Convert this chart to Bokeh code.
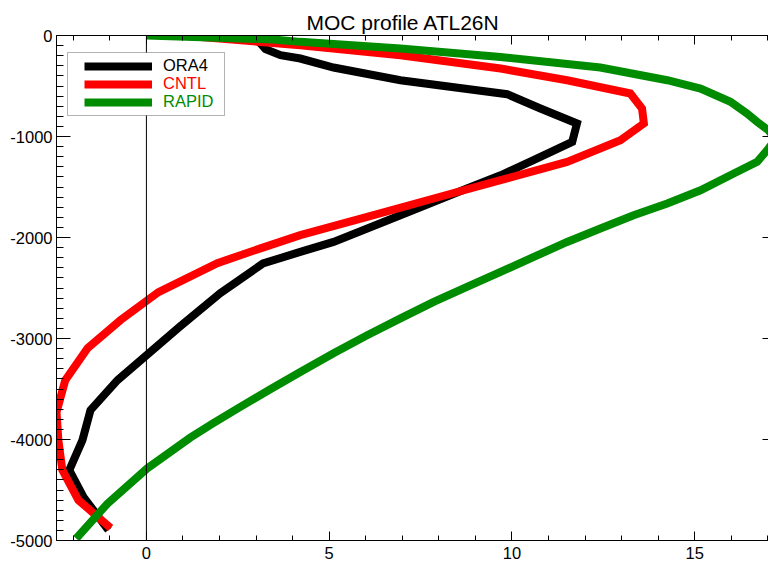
from bokeh.plotting import figure
from bokeh.models import (Range1d, LinearAxis, SingleIntervalTicker, Span, Legend, LegendItem,
                          CustomJSTickFormatter, Title, BoxAnnotation, Node)
from bokeh.embed import file_html
from bokeh.resources import INLINE

# ---- data ----
ora4_x = [3.06, 3.09, 3.26, 3.67, 4.21, 5.12, 6.95, 9.87, 10.78, 11.78, 11.65, 10.59, 9.69,
          8.77, 6.95, 5.12, 4.21, 3.19, 2.02, 0.93, -0.79, -1.53, -1.75, -2.11, -1.72, -1.04]
ora4_z = [-5, -66, -136, -195, -228, -317, -443, -581, -723, -871, -1053, -1235, -1384,
          -1515, -1779, -2044, -2143, -2257, -2551, -2878, -3412, -3709, -4006, -4303, -4570, -4897]

cntl_x = [1.15, 4.21, 6.95, 9.69, 11.51, 13.24, 13.56, 13.61, 12.97, 11.51, 9.69, 7.86, 6.04,
          4.21, 3.10, 1.94, 0.33, -0.71, -1.61, -2.22, -2.46, -2.41, -2.30, -1.86, -0.98]
cntl_z = [-5, -96, -195, -327, -443, -574, -723, -871, -1037, -1251, -1432, -1614, -1796,
          -1977, -2110, -2254, -2541, -2818, -3096, -3412, -3729, -4006, -4303, -4600, -4877]

rapid_x = [0.0, 3.47, 4.21, 6.95, 9.69, 12.42, 14.25, 15.16, 15.98, 16.43, 16.71, 17.02, 17.21,
           17.02, 16.71, 16.07, 15.16, 14.25, 13.33, 12.42, 11.51, 10.60, 9.69, 8.77, 7.86,
           6.95, 6.04, 5.12, 4.21, 3.39, 2.57, 1.83, 1.20, 0.02, -1.07, -1.92]
rapid_z = [0, -39, -63, -129, -212, -317, -443, -525, -657, -772, -855, -938, -1027,
           -1119, -1251, -1366, -1532, -1663, -1779, -1911, -2044, -2192, -2341, -2489, -2638,
           -2800, -2968, -3145, -3331, -3502, -3677, -3838, -3982, -4287, -4636, -4980]

series_names = ["ORA4", "CNTL", "RAPID"]
series_colors = ["#000000", "#ff0000", "#008c00"]

FONT = "Liberation Sans"

p = figure(frame_width=712, frame_height=505, output_backend="svg", toolbar_location=None,
           x_range=Range1d(-2.46, 17.02), y_range=Range1d(-5000, 0),
           x_axis_location=None, y_axis_location=None,
           min_border_left=56, min_border_right=0, min_border_top=35, min_border_bottom=26)
p.xgrid.visible = False
p.ygrid.visible = False
p.outline_line_color = None
p.background_fill_color = "white"
p.border_fill_color = "white"

xt = SingleIntervalTicker(interval=5, num_minor_ticks=5)
yt = SingleIntervalTicker(interval=1000, num_minor_ticks=10)
blank = CustomJSTickFormatter(code="return ''")
plain = CustomJSTickFormatter(code="return String(Math.round(tick))")

def style(ax, tin, mtin):
    ax.major_tick_in = tin
    ax.major_tick_out = 0
    ax.minor_tick_in = mtin
    ax.minor_tick_out = 0
    ax.axis_line_color = "black"
    ax.major_tick_line_color = "black"
    ax.minor_tick_line_color = "black"
    ax.major_label_text_font = FONT
    ax.major_label_text_font_size = "16.5px"
    ax.major_label_text_color = "black"

bottom = LinearAxis(ticker=xt, formatter=plain)
style(bottom, 9, 5)
bottom.major_label_standoff = 6
p.add_layout(bottom, "below")

left = LinearAxis(ticker=yt, formatter=plain)
style(left, 14, 7)
left.major_label_standoff = 4
p.add_layout(left, "left")

top = LinearAxis(ticker=xt, formatter=blank)
style(top, 9, 5)
top.major_label_standoff = 0
p.add_layout(top, "above")

right = LinearAxis(ticker=yt, formatter=blank)
style(right, 6, 0)
right.axis_line_color = None
right.minor_tick_line_color = None
right.major_label_standoff = 0
p.add_layout(right, "right")

p.title = Title(text="MOC profile ATL26N", text_font=FONT, text_font_size="21px",
                text_font_style="normal", text_color="black", align="left", offset=250, standoff=4)

p.add_layout(Span(location=0, dimension="height", line_color="black", line_width=1))

renderers = []
for xs, zs, c in zip([ora4_x, cntl_x, rapid_x], [ora4_z, cntl_z, rapid_z], series_colors):
    r = p.line(xs, zs, line_color=c, line_width=8, line_join="miter")
    renderers.append(r)

# legend frame (box drawn separately so that the inner left margin can be wider)
box = BoxAnnotation(left=Node(target="frame", symbol="left", offset=11),
                    right=Node(target="frame", symbol="left", offset=168),
                    top=Node(target="frame", symbol="top", offset=17),
                    bottom=Node(target="frame", symbol="top", offset=80),
                    fill_color="white", fill_alpha=1.0, line_color="black", line_width=1)
p.add_layout(box)

# one single-item legend per series so each label takes its series colour
for i, (n, r, c) in enumerate(zip(series_names, renderers, series_colors)):
    lg = Legend(items=[LegendItem(label=n, renderers=[r])], location=(28, 465 - 18 * i),
                padding=0, spacing=0, margin=0,
                glyph_width=68, glyph_height=18, label_height=18, label_standoff=11,
                label_text_font=FONT, label_text_font_size="16.5px", label_text_color=c,
                border_line_color=None, background_fill_alpha=0.0)
    p.add_layout(lg)

out = file_html(p, INLINE)
open("out.html", "w").write(out)
